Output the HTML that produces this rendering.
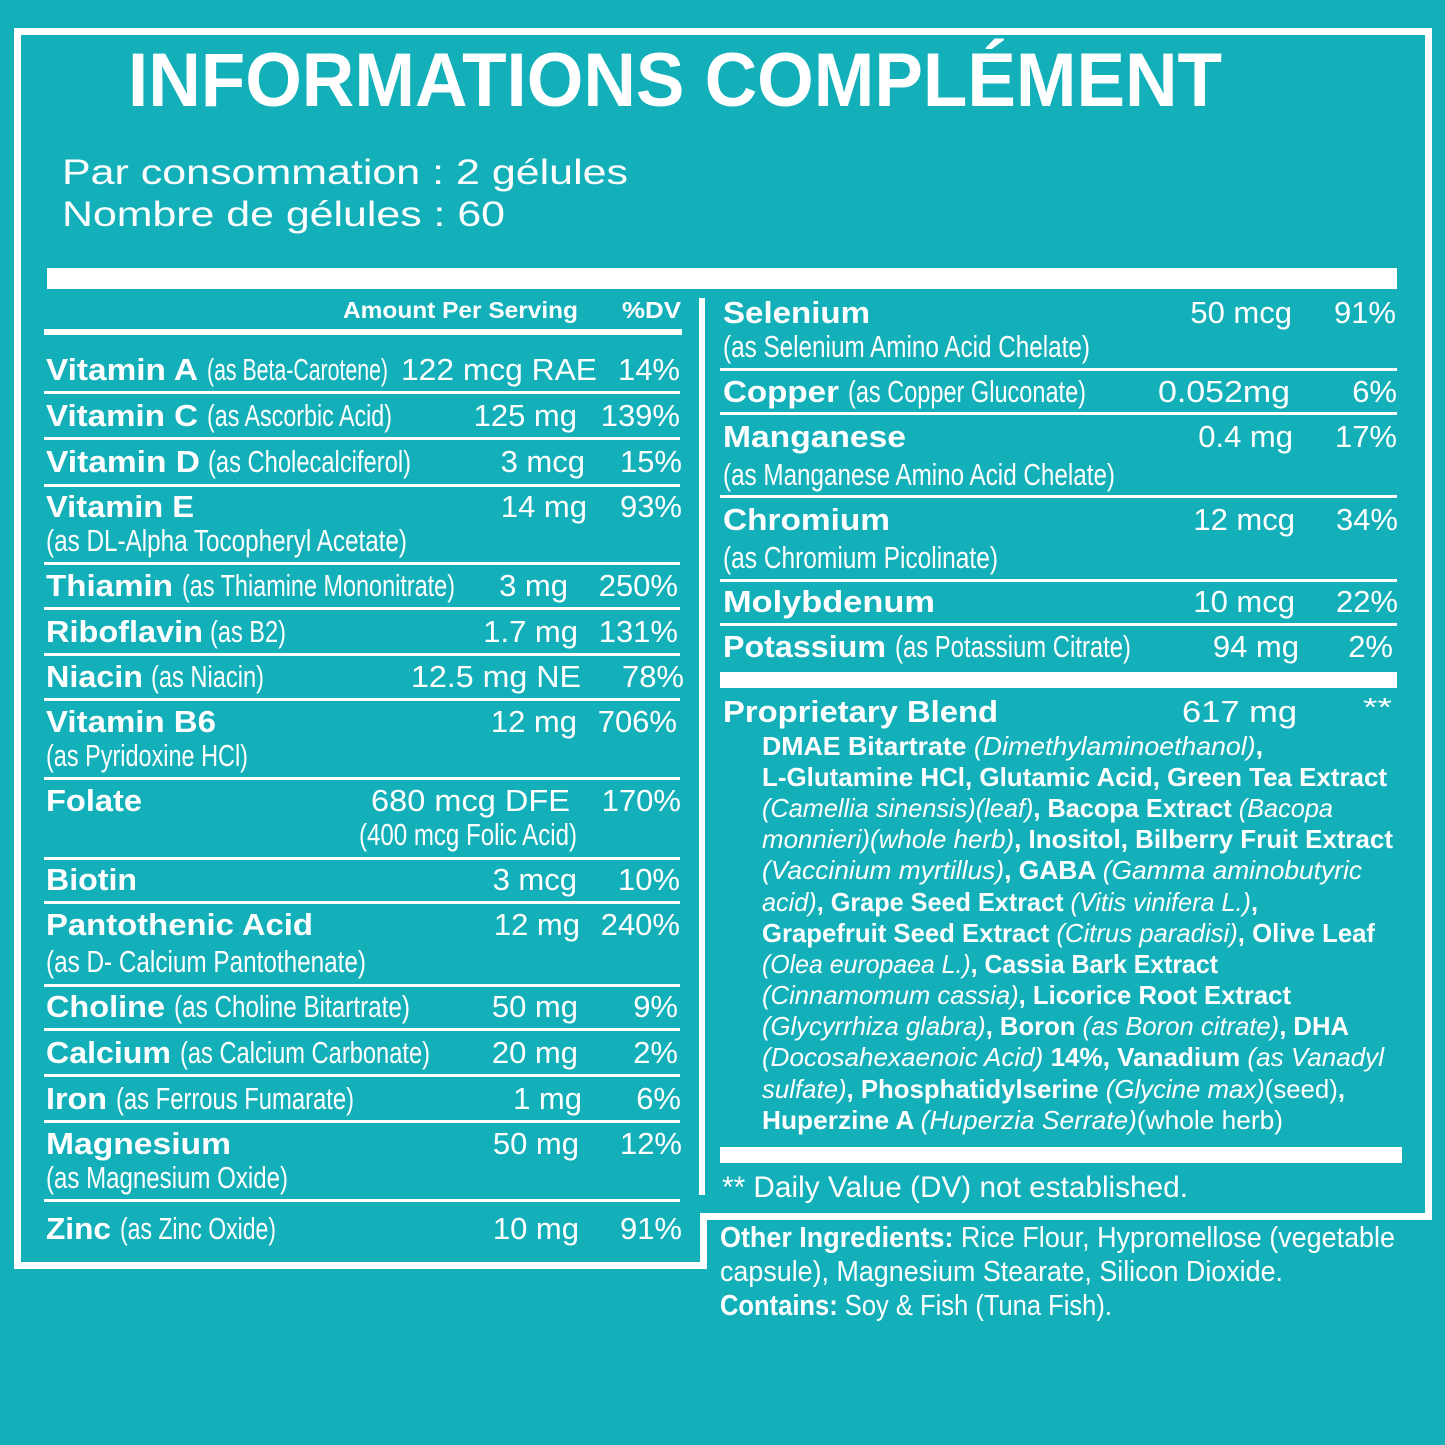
<!DOCTYPE html>
<html><head><meta charset="utf-8"><style>
html,body{margin:0;padding:0;background:#13b0ba;}
svg{display:block}
text{fill:#fff;font-family:"Liberation Sans",sans-serif;}
.b{font-weight:bold}
.n{font-family:"Liberation Sans Narrow","Liberation Sans",sans-serif;font-weight:normal}
.i{font-style:italic;font-weight:normal}
.r{font-weight:normal}
</style></head><body>
<svg width="1445" height="1445" viewBox="0 0 1445 1445" xmlns="http://www.w3.org/2000/svg">
<rect width="1445" height="1445" fill="#13b0ba"/>
<path d="M17.5 31.5 H1428.5 V1216.5 H703.5 V1265.5 H17.5 Z" fill="none" stroke="#fff" stroke-width="7"/>
<text x="128" y="106" class="b" font-size="76" textLength="1094" lengthAdjust="spacingAndGlyphs">INFORMATIONS COMPLÉMENT</text>
<text x="62" y="184" font-size="35" textLength="566" lengthAdjust="spacingAndGlyphs">Par consommation : 2 gélules</text>
<text x="62" y="226" font-size="35" textLength="443" lengthAdjust="spacingAndGlyphs">Nombre de gélules : 60</text>
<rect x="47" y="268" width="1350" height="21" fill="#fff"/>
<rect x="699" y="298" width="6" height="897" fill="#fff"/>
<text x="343" y="318" class="b" font-size="23" textLength="235" lengthAdjust="spacingAndGlyphs">Amount Per Serving</text>
<text x="622" y="318" class="b" font-size="23" textLength="59" lengthAdjust="spacingAndGlyphs">%DV</text>
<rect x="44" y="329" width="638" height="6" fill="#fff"/>
<g fill="#fff">
<rect x="44" y="391" width="636" height="3"/><rect x="44" y="437" width="636" height="3"/><rect x="44" y="484" width="636" height="3"/><rect x="44" y="562" width="636" height="3"/><rect x="44" y="607" width="636" height="3"/><rect x="44" y="653" width="636" height="3"/><rect x="44" y="698" width="636" height="3"/><rect x="44" y="777" width="636" height="3"/><rect x="44" y="857" width="636" height="3"/><rect x="44" y="901" width="636" height="3"/><rect x="44" y="984" width="636" height="3"/><rect x="44" y="1028" width="636" height="3"/><rect x="44" y="1074" width="636" height="3"/><rect x="44" y="1120" width="636" height="3"/><rect x="44" y="1199" width="636" height="3"/>
<rect x="720" y="368" width="677" height="3"/><rect x="720" y="412" width="677" height="3"/><rect x="720" y="495" width="677" height="3"/><rect x="720" y="579" width="677" height="3"/><rect x="720" y="623" width="677" height="3"/>
<rect x="720" y="672" width="677" height="16"/><rect x="720" y="1147" width="682" height="16"/>
</g>
<g font-size="31">
<text x="46" y="380" class="b" textLength="152" lengthAdjust="spacingAndGlyphs">Vitamin A</text><text x="207" y="380" class="n" textLength="181" lengthAdjust="spacingAndGlyphs">(as Beta-Carotene)</text>
<text x="401" y="380" textLength="196" lengthAdjust="spacingAndGlyphs">122 mcg RAE</text><text x="680" y="380" text-anchor="end">14%</text>
<text x="46" y="426" class="b" textLength="152" lengthAdjust="spacingAndGlyphs">Vitamin C</text><text x="207" y="426" class="n" textLength="185" lengthAdjust="spacingAndGlyphs">(as Ascorbic Acid)</text>
<text x="577" y="426" text-anchor="end">125 mg</text><text x="680" y="426" text-anchor="end">139%</text>
<text x="46" y="472" class="b" textLength="154" lengthAdjust="spacingAndGlyphs">Vitamin D</text><text x="208" y="472" class="n" textLength="203" lengthAdjust="spacingAndGlyphs">(as Cholecalciferol)</text>
<text x="585" y="472" text-anchor="end">3 mcg</text><text x="682" y="472" text-anchor="end">15%</text>
<text x="46" y="517" class="b" textLength="148" lengthAdjust="spacingAndGlyphs">Vitamin E</text>
<text x="46" y="551" class="n" textLength="361" lengthAdjust="spacingAndGlyphs">(as DL-Alpha Tocopheryl Acetate)</text>
<text x="587" y="517" text-anchor="end">14 mg</text><text x="682" y="517" text-anchor="end">93%</text>
<text x="46" y="596" class="b" textLength="127" lengthAdjust="spacingAndGlyphs">Thiamin</text><text x="182" y="596" class="n" textLength="273" lengthAdjust="spacingAndGlyphs">(as Thiamine Mononitrate)</text>
<text x="568" y="596" text-anchor="end">3 mg</text><text x="678" y="596" text-anchor="end">250%</text>
<text x="46" y="642" class="b" textLength="157" lengthAdjust="spacingAndGlyphs">Riboflavin</text><text x="210" y="642" class="n" textLength="76" lengthAdjust="spacingAndGlyphs">(as B2)</text>
<text x="578" y="642" text-anchor="end">1.7 mg</text><text x="678" y="642" text-anchor="end">131%</text>
<text x="46" y="687" class="b" textLength="97" lengthAdjust="spacingAndGlyphs">Niacin</text><text x="151" y="687" class="n" textLength="113" lengthAdjust="spacingAndGlyphs">(as Niacin)</text>
<text x="411" y="687" textLength="170" lengthAdjust="spacingAndGlyphs">12.5 mg NE</text><text x="684" y="687" text-anchor="end">78%</text>
<text x="46" y="732" class="b" textLength="170" lengthAdjust="spacingAndGlyphs">Vitamin B6</text>
<text x="46" y="766" class="n" textLength="202" lengthAdjust="spacingAndGlyphs">(as Pyridoxine HCl)</text>
<text x="577" y="732" text-anchor="end">12 mg</text><text x="677" y="732" text-anchor="end">706%</text>
<text x="46" y="811" class="b" textLength="96" lengthAdjust="spacingAndGlyphs">Folate</text>
<text x="371" y="811" textLength="199" lengthAdjust="spacingAndGlyphs">680 mcg DFE</text>
<text x="359" y="845" class="n" textLength="218" lengthAdjust="spacingAndGlyphs">(400 mcg Folic Acid)</text>
<text x="681" y="811" text-anchor="end">170%</text>
<text x="46" y="890" class="b" textLength="91" lengthAdjust="spacingAndGlyphs">Biotin</text>
<text x="577" y="890" text-anchor="end">3 mcg</text><text x="680" y="890" text-anchor="end">10%</text>
<text x="46" y="935" class="b" textLength="267" lengthAdjust="spacingAndGlyphs">Pantothenic Acid</text>
<text x="46" y="972" class="n" textLength="320" lengthAdjust="spacingAndGlyphs">(as D- Calcium Pantothenate)</text>
<text x="580" y="935" text-anchor="end">12 mg</text><text x="680" y="935" text-anchor="end">240%</text>
<text x="46" y="1017" class="b" textLength="119" lengthAdjust="spacingAndGlyphs">Choline</text><text x="174" y="1017" class="n" textLength="236" lengthAdjust="spacingAndGlyphs">(as Choline Bitartrate)</text>
<text x="578" y="1017" text-anchor="end">50 mg</text><text x="678" y="1017" text-anchor="end">9%</text>
<text x="46" y="1063" class="b" textLength="125" lengthAdjust="spacingAndGlyphs">Calcium</text><text x="180" y="1063" class="n" textLength="250" lengthAdjust="spacingAndGlyphs">(as Calcium Carbonate)</text>
<text x="578" y="1063" text-anchor="end">20 mg</text><text x="678" y="1063" text-anchor="end">2%</text>
<text x="46" y="1109" class="b" textLength="61" lengthAdjust="spacingAndGlyphs">Iron</text><text x="116" y="1109" class="n" textLength="238" lengthAdjust="spacingAndGlyphs">(as Ferrous Fumarate)</text>
<text x="582" y="1109" text-anchor="end">1 mg</text><text x="681" y="1109" text-anchor="end">6%</text>
<text x="46" y="1154" class="b" textLength="185" lengthAdjust="spacingAndGlyphs">Magnesium</text>
<text x="46" y="1188" class="n" textLength="242" lengthAdjust="spacingAndGlyphs">(as Magnesium Oxide)</text>
<text x="579" y="1154" text-anchor="end">50 mg</text><text x="682" y="1154" text-anchor="end">12%</text>
<text x="46" y="1239" class="b" textLength="65" lengthAdjust="spacingAndGlyphs">Zinc</text><text x="120" y="1239" class="n" textLength="156" lengthAdjust="spacingAndGlyphs">(as Zinc Oxide)</text>
<text x="579" y="1239" text-anchor="end">10 mg</text><text x="682" y="1239" text-anchor="end">91%</text>

<text x="723" y="323" class="b" textLength="147" lengthAdjust="spacingAndGlyphs">Selenium</text>
<text x="723" y="357" class="n" textLength="367" lengthAdjust="spacingAndGlyphs">(as Selenium Amino Acid Chelate)</text>
<text x="1292" y="323" text-anchor="end">50 mcg</text><text x="1396" y="323" text-anchor="end">91%</text>
<text x="723" y="402" class="b" textLength="116" lengthAdjust="spacingAndGlyphs">Copper</text><text x="848" y="402" class="n" textLength="238" lengthAdjust="spacingAndGlyphs">(as Copper Gluconate)</text>
<text x="1158" y="402" textLength="132" lengthAdjust="spacingAndGlyphs">0.052mg</text><text x="1397" y="402" text-anchor="end">6%</text>
<text x="723" y="447" class="b" textLength="183" lengthAdjust="spacingAndGlyphs">Manganese</text>
<text x="723" y="485" class="n" textLength="392" lengthAdjust="spacingAndGlyphs">(as Manganese Amino Acid Chelate)</text>
<text x="1293" y="447" text-anchor="end">0.4 mg</text><text x="1397" y="447" text-anchor="end">17%</text>
<text x="723" y="530" class="b" textLength="167" lengthAdjust="spacingAndGlyphs">Chromium</text>
<text x="723" y="568" class="n" textLength="275" lengthAdjust="spacingAndGlyphs">(as Chromium Picolinate)</text>
<text x="1295" y="530" text-anchor="end">12 mcg</text><text x="1398" y="530" text-anchor="end">34%</text>
<text x="723" y="612" class="b" textLength="212" lengthAdjust="spacingAndGlyphs">Molybdenum</text>
<text x="1295" y="612" text-anchor="end">10 mcg</text><text x="1398" y="612" text-anchor="end">22%</text>
<text x="723" y="657" class="b" textLength="163" lengthAdjust="spacingAndGlyphs">Potassium</text><text x="895" y="657" class="n" textLength="236" lengthAdjust="spacingAndGlyphs">(as Potassium Citrate)</text>
<text x="1299" y="657" text-anchor="end">94 mg</text><text x="1393" y="657" text-anchor="end">2%</text>
<text x="723" y="722" class="b" textLength="275" lengthAdjust="spacingAndGlyphs">Proprietary Blend</text>
<text x="1182" y="722" textLength="115" lengthAdjust="spacingAndGlyphs">617 mg</text>
<text x="1363" y="716" font-size="26" textLength="29" lengthAdjust="spacingAndGlyphs">**</text>
</g>
<g font-size="26">
<text x="762" y="755" class="b" textLength="501" lengthAdjust="spacingAndGlyphs">DMAE Bitartrate <tspan class="i">(Dimethylaminoethanol)</tspan>,</text>
<text x="762" y="786" class="b" textLength="625" lengthAdjust="spacingAndGlyphs">L-Glutamine HCl, Glutamic Acid, Green Tea Extract</text>
<text x="762" y="817" class="b" textLength="571" lengthAdjust="spacingAndGlyphs"><tspan class="i">(Camellia sinensis)(leaf)</tspan>, Bacopa Extract <tspan class="i">(Bacopa</tspan></text>
<text x="762" y="848" class="b" textLength="631" lengthAdjust="spacingAndGlyphs"><tspan class="i">monnieri)(whole herb)</tspan>, Inositol, Bilberry Fruit Extract</text>
<text x="762" y="879" class="b" textLength="600" lengthAdjust="spacingAndGlyphs"><tspan class="i">(Vaccinium myrtillus)</tspan>, GABA <tspan class="i">(Gamma aminobutyric</tspan></text>
<text x="762" y="911" class="b" textLength="496" lengthAdjust="spacingAndGlyphs"><tspan class="i">acid)</tspan>, Grape Seed Extract <tspan class="i">(Vitis vinifera L.)</tspan>,</text>
<text x="762" y="942" class="b" textLength="613" lengthAdjust="spacingAndGlyphs">Grapefruit Seed Extract <tspan class="i">(Citrus paradisi)</tspan>, Olive Leaf</text>
<text x="762" y="973" class="b" textLength="456" lengthAdjust="spacingAndGlyphs"><tspan class="i">(Olea europaea L.)</tspan>, Cassia Bark Extract</text>
<text x="762" y="1004" class="b" textLength="529" lengthAdjust="spacingAndGlyphs"><tspan class="i">(Cinnamomum cassia)</tspan>, Licorice Root Extract</text>
<text x="762" y="1035" class="b" textLength="587" lengthAdjust="spacingAndGlyphs"><tspan class="i">(Glycyrrhiza glabra)</tspan>, Boron <tspan class="i">(as Boron citrate)</tspan>, DHA</text>
<text x="762" y="1066" class="b" textLength="622" lengthAdjust="spacingAndGlyphs"><tspan class="i">(Docosahexaenoic Acid)</tspan> 14%, Vanadium <tspan class="i">(as Vanadyl</tspan></text>
<text x="762" y="1098" class="b" textLength="583" lengthAdjust="spacingAndGlyphs"><tspan class="i">sulfate)</tspan>, Phosphatidylserine <tspan class="i">(Glycine max)</tspan><tspan class="r">(seed)</tspan>,</text>
<text x="762" y="1129" class="b" textLength="521" lengthAdjust="spacingAndGlyphs">Huperzine A <tspan class="i">(Huperzia Serrate)</tspan><tspan class="r">(whole herb)</tspan></text>
</g>
<text x="722" y="1197" font-size="30" textLength="466" lengthAdjust="spacingAndGlyphs">** Daily Value (DV) not established.</text>
<g font-size="29">
<text x="720" y="1247" textLength="675" lengthAdjust="spacingAndGlyphs"><tspan class="b">Other Ingredients:</tspan> Rice Flour, Hypromellose (vegetable</text>
<text x="720" y="1281" textLength="563" lengthAdjust="spacingAndGlyphs">capsule), Magnesium Stearate, Silicon Dioxide.</text>
<text x="720" y="1315" textLength="392" lengthAdjust="spacingAndGlyphs"><tspan class="b">Contains:</tspan> Soy &amp; Fish (Tuna Fish).</text>
</g>
</svg>
</body></html>
